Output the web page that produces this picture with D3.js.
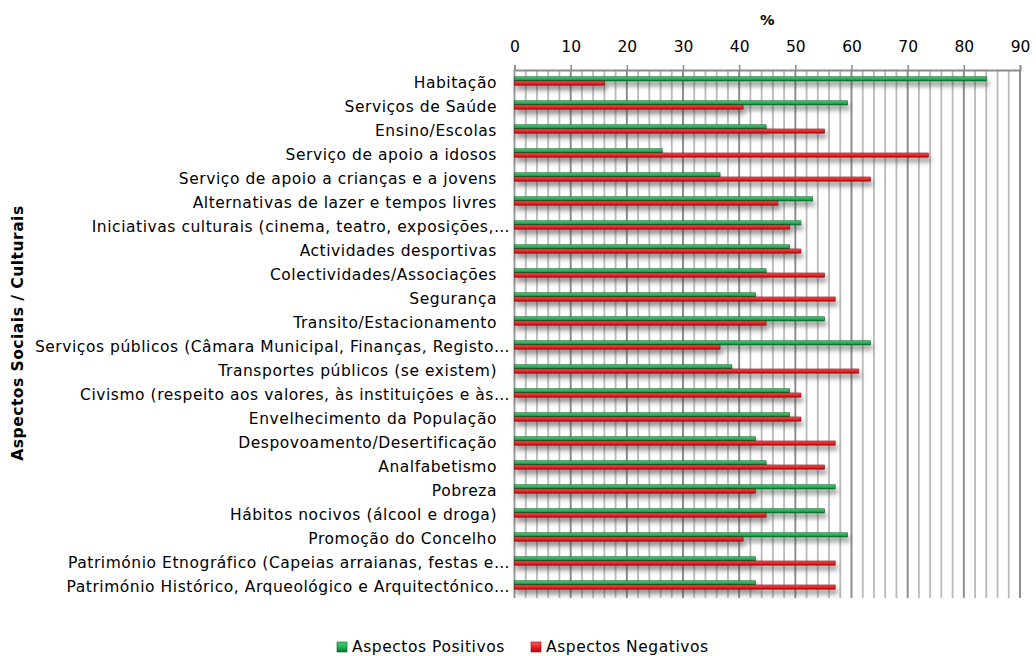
<!DOCTYPE html>
<html>
<head>
<meta charset="utf-8">
<script src="https://cdn.jsdelivr.net/npm/d3@7"></script>
<style>
  html, body { margin: 0; padding: 0; background: #fff; }
  svg { display: block; font-family: "DejaVu Sans", Verdana, sans-serif; }
</style>
</head>
<body>
<svg id="chart" width="1036" height="656"></svg>
<script>
// Survey results: share of answers (%) per social / cultural aspect
const categories = [
  "Habitação",
  "Serviços de Saúde",
  "Ensino/Escolas",
  "Serviço de apoio a idosos",
  "Serviço de apoio a crianças e a jovens",
  "Alternativas de lazer e tempos livres",
  "Iniciativas culturais (cinema, teatro, exposições,…",
  "Actividades desportivas",
  "Colectividades/Associações",
  "Segurança",
  "Transito/Estacionamento",
  "Serviços públicos (Câmara Municipal, Finanças, Registo…",
  "Transportes públicos (se existem)",
  "Civismo (respeito aos valores, às instituições e às…",
  "Envelhecimento da População",
  "Despovoamento/Desertificação",
  "Analfabetismo",
  "Pobreza",
  "Hábitos nocivos (álcool e droga)",
  "Promoção do Concelho",
  "Património Etnográfico (Capeias arraianas, festas e…",
  "Património Histórico, Arqueológico e Arquitectónico…"
];
const positivos = [84, 59.3, 44.8, 26.3, 36.6, 53.1, 51, 49, 44.8, 42.9, 55.2, 63.4, 38.7, 49, 49, 42.9, 44.8, 57.1, 55.2, 59.3, 42.9, 42.9];
const negativos = [16, 40.7, 55.2, 73.7, 63.4, 46.9, 49, 51, 55.2, 57.1, 44.8, 36.6, 61.3, 51, 51, 57.1, 55.2, 42.9, 44.8, 40.7, 57.1, 57.1];
const seriesNames = ["Aspectos Positivos", "Aspectos Negativos"];
const xTicks = [0, 10, 20, 30, 40, 50, 60, 70, 80, 90];
const xTitle = "%";
const yTitle = "Aspectos Sociais / Culturais";

const svg = d3.select("#chart");
const plotLeft = 514.5, plotRight = 1020, plotTop = 70, plotBottom = 598;
const fontSize = 15.5, spacing = 0.55;

const x = d3.scaleLinear().domain([0, 90]).range([plotLeft, plotRight]);
const y = d3.scaleBand().domain(categories).range([plotTop, plotBottom]);
const barH = 4.2;

// gradients and shadow
const defs = svg.append("defs");
function grad(id, c1, c2, c3) {
  const g = defs.append("linearGradient").attr("id", id)
    .attr("x1", 0).attr("y1", 0).attr("x2", 0).attr("y2", 1);
  g.append("stop").attr("offset", "0%").attr("stop-color", c1);
  g.append("stop").attr("offset", "55%").attr("stop-color", c2);
  g.append("stop").attr("offset", "100%").attr("stop-color", c3);
}
grad("gGreen", "#46d27a", "#1eae4e", "#0b6e2e");
grad("gRed", "#ff5a5a", "#ec1c24", "#9e0d12");
const f = defs.append("filter").attr("id", "shadow")
  .attr("x", "-5%").attr("y", "-100%").attr("width", "110%").attr("height", "500%");
f.append("feDropShadow").attr("dx", 2).attr("dy", 4.5).attr("stdDeviation", 2.6)
  .attr("flood-color", "#444").attr("flood-opacity", 0.6);

// vertical gridlines: every 2 units, darker every 10
const gridVals = d3.range(0, 91, 2);
svg.append("g").selectAll("line").data(gridVals.filter(v => v % 10 !== 0)).join("line")
  .attr("x1", d => x(d)).attr("x2", d => x(d))
  .attr("y1", plotTop).attr("y2", plotBottom)
  .attr("stroke", "#bababa").attr("stroke-width", 1.8);
svg.append("g").selectAll("line").data(xTicks.filter(v => v !== 0)).join("line")
  .attr("x1", d => x(d)).attr("x2", d => x(d))
  .attr("y1", plotTop).attr("y2", plotBottom)
  .attr("stroke", "#8a8a8a").attr("stroke-width", 1.9);

// top axis
const xAxis = d3.axisTop(x).tickValues(xTicks).tickSize(5).tickPadding(13);
const gx = svg.append("g").attr("transform", `translate(0,${plotTop})`).call(xAxis);
gx.select(".domain").attr("stroke", "#8c8c8c").attr("stroke-width", 1.8);
gx.selectAll(".tick line").attr("stroke", "#8c8c8c").attr("stroke-width", 1.5);
gx.selectAll(".tick text").attr("font-size", fontSize).attr("fill", "#000")
  .attr("font-family", "DejaVu Sans, Verdana, sans-serif");

// left axis line
svg.append("line").attr("x1", plotLeft).attr("x2", plotLeft).attr("y1", plotTop).attr("y2", plotBottom)
  .attr("stroke", "#9a9a9a").attr("stroke-width", 2);

// bars
const rows = categories.map((c, i) => ({ c, p: positivos[i], n: negativos[i] }));
const bars = svg.append("g");
bars.selectAll("rect.pos").data(rows).join("rect").attr("class", "pos")
  .attr("x", x(0)).attr("width", d => x(d.p) - x(0))
  .attr("y", d => y(d.c) + y.bandwidth() / 2 - 1 - barH).attr("height", barH)
  .attr("fill", "url(#gGreen)").attr("stroke", "#0a5e27").attr("stroke-width", 0.6)
  .attr("filter", "url(#shadow)");
bars.selectAll("rect.neg").data(rows).join("rect").attr("class", "neg")
  .attr("x", x(0)).attr("width", d => x(d.n) - x(0))
  .attr("y", d => y(d.c) + y.bandwidth() / 2 - 1).attr("height", barH)
  .attr("fill", "url(#gRed)").attr("stroke", "#8a0a0e").attr("stroke-width", 0.6)
  .attr("filter", "url(#shadow)");

// category labels
svg.append("g").selectAll("text").data(categories).join("text")
  .attr("x", d => d.endsWith("…") ? 510 : 497)
  .attr("y", d => y(d) + y.bandwidth() / 2 + 1)
  .attr("text-anchor", "end").attr("dominant-baseline", "central")
  .attr("font-size", fontSize).attr("letter-spacing", spacing).attr("fill", "#000")
  .text(d => d);

// titles
svg.append("text").attr("x", (plotLeft + plotRight) / 2).attr("y", 20)
  .attr("text-anchor", "middle").attr("dominant-baseline", "central")
  .attr("font-size", 14.5).attr("font-weight", "bold").text(xTitle);
svg.append("text").attr("transform", "translate(18,333) rotate(-90)")
  .attr("text-anchor", "middle").attr("dominant-baseline", "central")
  .attr("font-size", 15.5).attr("letter-spacing", 0.5).attr("font-weight", "bold").text(yTitle);

// legend
const legend = svg.append("g");
const legItems = [
  { name: seriesNames[0], fill: "url(#gGreen)", stroke: "#0a5e27", x: 337 },
  { name: seriesNames[1], fill: "url(#gRed)", stroke: "#8a0a0e", x: 531 }
];
legItems.forEach(it => {
  legend.append("rect").attr("x", it.x).attr("y", 642).attr("width", 10).attr("height", 10)
    .attr("fill", it.fill).attr("stroke", it.stroke).attr("stroke-width", 0.6);
  legend.append("text").attr("x", it.x + 15).attr("y", 647)
    .attr("dominant-baseline", "central").attr("font-size", fontSize)
    .attr("letter-spacing", spacing).text(it.name);
});
</script>
</body>
</html>
